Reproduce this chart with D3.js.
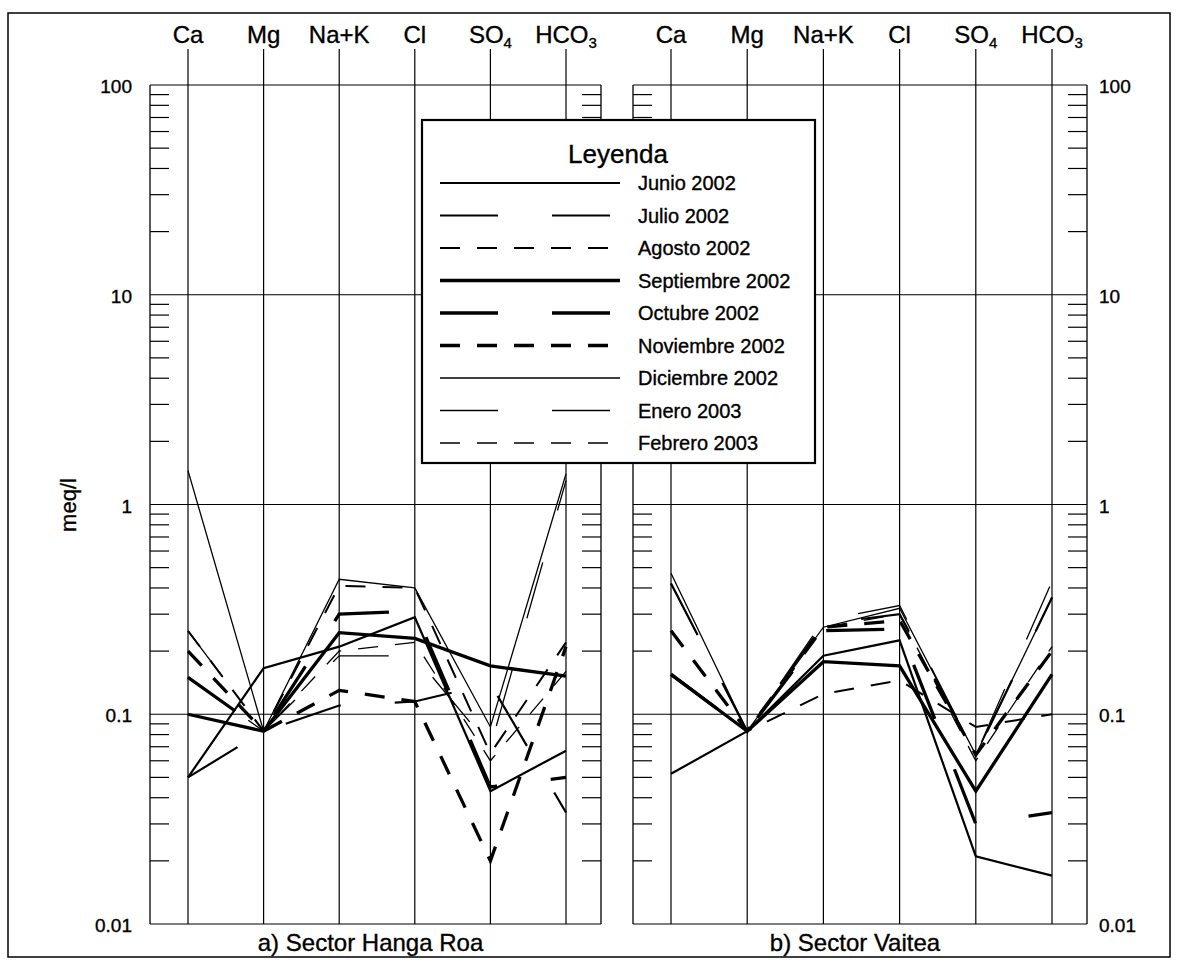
<!DOCTYPE html>
<html>
<head>
<meta charset="utf-8">
<script src="https://cdn.jsdelivr.net/npm/d3@7"></script>
<style>
    body { margin: 0; background: #fff; }
    svg { font-family: "Liberation Sans", Arial, sans-serif; }
    text { stroke: black; stroke-width: 0.35px; }
</style>
</head>
<body>
<div id="figure"></div>
<script>
// ions (column axes)
var ions = ["Ca", "Mg", "Na+K", "Cl", "SO4", "HCO3"];
var months = ["Junio 2002", "Julio 2002", "Agosto 2002", "Septiembre 2002", "Octubre 2002",
    "Noviembre 2002", "Diciembre 2002", "Enero 2003", "Febrero 2003"];
var yTicks = [100, 10, 1, 0.1, 0.01];
var yTickLabels = ["100", "10", "1", "0.1", "0.01"];

// meq/l, one row per month, columns follow ions
var hangaRoa = [
    [0.05, 0.166, 0.21, 0.29, 0.043, 0.067],
    [0.05, 0.083, 0.11, 0.115, 0.14, 0.034],
    [0.25, 0.083, 0.41, 0.40, 0.065, 0.22],
    [0.10, 0.083, 0.245, 0.23, 0.17, 0.152],
    [0.15, 0.083, 0.30, 0.31, 0.045, 0.05],
    [0.20, 0.083, 0.13, 0.115, 0.020, 0.21],
    [1.45, 0.083, 0.44, 0.40, 0.087, 1.40],
    [0.25, 0.083, 0.19, 0.19, 0.07, 1.30],
    [0.15, 0.083, 0.20, 0.22, 0.06, 0.16]
];
var vaitea = [
    [0.052, 0.083, 0.19, 0.225, 0.021, 0.017],
    [0.42, 0.083, 0.27, 0.30, 0.064, 0.36],
    [0.25, 0.083, 0.125, 0.145, 0.087, 0.10],
    [0.155, 0.083, 0.178, 0.17, 0.043, 0.155],
    [0.155, 0.083, 0.25, 0.255, 0.03, 0.034],
    [0.25, 0.083, 0.26, 0.28, 0.064, 0.20],
    [0.47, 0.083, 0.26, 0.32, 0.064, 0.36],
    [0.42, 0.083, 0.28, 0.33, 0.064, 0.43],
    [0.25, 0.083, 0.26, 0.30, 0.06, 0.21]
];
var panelTitles = ["a) Sector Hanga Roa", "b) Sector Vaitea"];

// line styles per month
var widths = [2.2, 2.2, 2, 3.3, 3.3, 3.3, 1.3, 1.3, 1.3];
var dashes = ["none", "58,54", "20,17", "none", "58,54", "20,17", "none", "58,54", "20,17"];

var w = 1177;
var h = 967;
var svg = d3.select("#figure")
    .append("svg")
    .attr("width", w)
    .attr("height", h);

// outer frame
svg.append("rect")
    .attr("x", 8).attr("y", 13)
    .attr("width", 1162).attr("height", 944)
    .attr("fill", "none").attr("stroke", "black").attr("stroke-width", 1.5);

var yScale = d3.scaleLog()
    .domain([0.01, 100])
    .range([924, 85]);

var minorTicks = [];
[0.01, 0.1, 1, 10].forEach(function(d) {
    for (var k = 2; k <= 9; k++) minorTicks.push(k * d);
});

var panels = [
    { x0: 150, x1: 601, data: hangaRoa, labelSide: "left" },
    { x0: 633, x1: 1087, data: vaitea, labelSide: "right" }
];

panels.forEach(function(p, pi) {
    var xScale = d3.scalePoint()
        .domain(ions)
        .range([p.x0 + 38, p.x1 - 35]);

    var g = svg.append("g");

    // gridlines
    g.selectAll(".grid")
        .data(yTicks)
        .enter()
        .append("line")
        .attr("x1", p.x0).attr("x2", p.x1)
        .attr("y1", function(d) { return yScale(d); })
        .attr("y2", function(d) { return yScale(d); })
        .attr("stroke", "black").attr("stroke-width", 1.2);

    // panel border (left/right)
    [p.x0, p.x1].forEach(function(x) {
        g.append("line")
            .attr("x1", x).attr("x2", x)
            .attr("y1", yScale(100)).attr("y2", yScale(0.01))
            .attr("stroke", "black").attr("stroke-width", 1.3);
    });

    // minor ticks, both sides
    g.selectAll(".minL")
        .data(minorTicks)
        .enter()
        .append("line")
        .attr("x1", p.x0).attr("x2", p.x0 + 19)
        .attr("y1", function(d) { return yScale(d); })
        .attr("y2", function(d) { return yScale(d); })
        .attr("stroke", "black").attr("stroke-width", 1.2);
    g.selectAll(".minR")
        .data(minorTicks)
        .enter()
        .append("line")
        .attr("x1", p.x1 - 19).attr("x2", p.x1)
        .attr("y1", function(d) { return yScale(d); })
        .attr("y2", function(d) { return yScale(d); })
        .attr("stroke", "black").attr("stroke-width", 1.2);

    // ion axes
    g.selectAll(".ionAxis")
        .data(ions)
        .enter()
        .append("line")
        .attr("x1", function(d) { return xScale(d); })
        .attr("x2", function(d) { return xScale(d); })
        .attr("y1", 49).attr("y2", yScale(0.01))
        .attr("stroke", "black").attr("stroke-width", 1.2);

    // ion labels with subscripts
    ions.forEach(function(ion) {
        var t = g.append("text")
            .attr("x", xScale(ion))
            .attr("y", 43)
            .attr("text-anchor", "middle")
            .style("font-size", "24px");
        var m = ion.match(/^(.*?)(\d)$/);
        if (m) {
            t.append("tspan").text(m[1]);
            t.append("tspan").text(m[2]).attr("dy", 5).style("font-size", "15px");
        } else {
            t.text(ion);
        }
    });

    // y tick labels
    g.selectAll(".ylab")
        .data(yTicks)
        .enter()
        .append("text")
        .attr("x", p.labelSide == "left" ? p.x0 - 18 : p.x1 + 12)
        .attr("y", function(d) { return yScale(d) + 8; })
        .attr("text-anchor", p.labelSide == "left" ? "end" : "start")
        .style("font-size", "19px")
        .text(function(d, i) { return yTickLabels[i]; });

    // series
    var line = d3.line()
        .x(function(d, i) { return xScale(ions[i]); })
        .y(function(d) { return yScale(d); });

    g.selectAll(".series")
        .data(p.data)
        .enter()
        .append("path")
        .attr("d", line)
        .attr("fill", "none")
        .attr("stroke", "black")
        .attr("stroke-width", function(d, i) { return widths[i]; })
        .attr("stroke-dasharray", function(d, i) { return dashes[i]; });

    // panel title
    g.append("text")
        .attr("x", (p.x0 + p.x1) / 2 + (pi == 0 ? -5 : -5))
        .attr("y", 951)
        .attr("text-anchor", "middle")
        .style("font-size", "24px")
        .text(panelTitles[pi]);
});

// y axis title
svg.append("text")
    .attr("transform", "translate(76,505) rotate(-90)")
    .attr("text-anchor", "middle")
    .style("font-size", "22px")
    .text("meq/l");

// legend
var lg = svg.append("g");
lg.append("rect")
    .attr("x", 422).attr("y", 120)
    .attr("width", 393).attr("height", 343)
    .attr("fill", "white").attr("stroke", "black").attr("stroke-width", 2.2);
lg.append("text")
    .attr("x", 618).attr("y", 163)
    .attr("text-anchor", "middle")
    .style("font-size", "26px")
    .text("Leyenda");

var legendY = d3.scaleLinear().domain([0, 8]).range([183, 443]);
months.forEach(function(m, i) {
    lg.append("line")
        .attr("x1", 440).attr("x2", 620)
        .attr("y1", legendY(i)).attr("y2", legendY(i))
        .attr("stroke", "black")
        .attr("stroke-width", widths[i])
        .attr("stroke-dasharray", dashes[i]);
    lg.append("text")
        .attr("x", 638).attr("y", legendY(i) + 7)
        .style("font-size", "20px")
        .text(m);
});
</script>
</body>
</html>
